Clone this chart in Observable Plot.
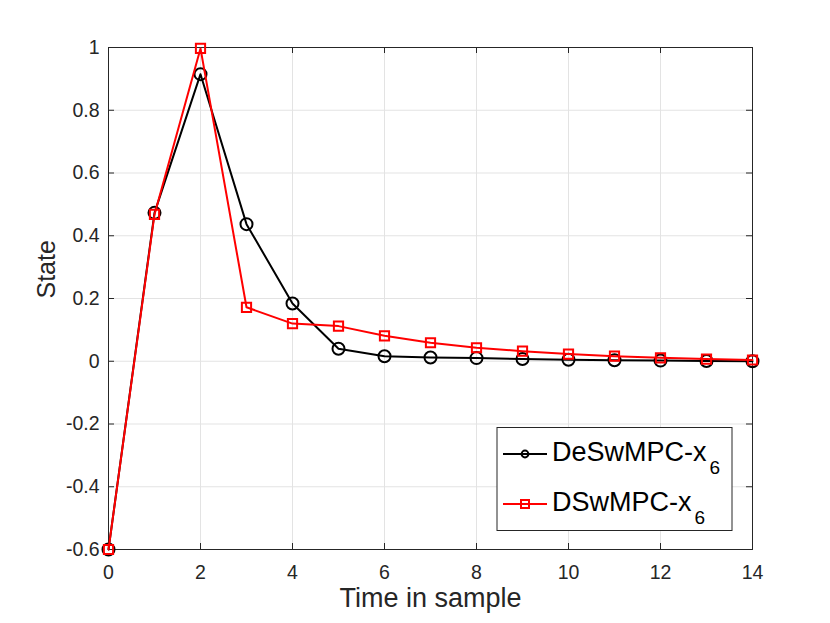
<!DOCTYPE html>
<html>
<head>
<meta charset="utf-8">
<script src="https://cdn.jsdelivr.net/npm/d3@7"></script>
<script src="https://cdn.jsdelivr.net/npm/@observablehq/plot@0.6"></script>
<style>
  body { margin: 0; background: #fff; }
  #chart { position: relative; width: 830px; height: 623px; }
  #chart g[aria-label="x-axis tick label"] text,
  #chart g[aria-label="y-axis tick label"] text { font-size: 19.5px; }
</style>
</head>
<body>
<div id="chart"></div>
<script>
const steps = [0, 1, 2, 3, 4, 5, 6, 7, 8, 9, 10, 11, 12, 13, 14];
const deswmpc = [-0.6, 0.473, 0.915, 0.437, 0.184, 0.040, 0.016, 0.012, 0.010, 0.007, 0.005, 0.003, 0.002, 0.001, 0.000];
const dswmpc  = [-0.6, 0.468, 0.997, 0.172, 0.120, 0.112, 0.081, 0.059, 0.043, 0.032, 0.023, 0.016, 0.011, 0.007, 0.004];
const xTicks = [0, 2, 4, 6, 8, 10, 12, 14];
const yTicks = [-0.6, -0.4, -0.2, 0, 0.2, 0.4, 0.6, 0.8, 1];
const yTickLabels = ["-0.6", "-0.4", "-0.2", "0", "0.2", "0.4", "0.6", "0.8", "1"];
const seriesNames = ["DeSwMPC-x", "DSwMPC-x"];
const seriesSub = "6";

const dataA = steps.map((t, i) => ({t, v: deswmpc[i]}));
const dataB = steps.map((t, i) => ({t, v: dswmpc[i]}));

const W = 830, H = 623;
const mL = 108, mR = 78, mT = 47, mB = 74;
const innerW = W - mL - mR, innerH = H - mT - mB;
const axisColor = "#262626";
const gridColor = "#e3e3e3";
const FONT = "'Liberation Sans', Arial, sans-serif";

const plot = Plot.plot({
  width: W, height: H,
  marginLeft: mL, marginRight: mR, marginTop: mT, marginBottom: mB,
  style: {fontFamily: FONT, fontSize: "19.5px", color: axisColor, background: "#fff"},
  x: {domain: [0, 14]},
  y: {domain: [-0.6, 1]},
  marks: [
    Plot.gridX(xTicks, {stroke: gridColor, strokeOpacity: 1}),
    Plot.gridY(yTicks, {stroke: gridColor, strokeOpacity: 1}),
    Plot.axisX(xTicks, {tickSize: 0, tickPadding: 16, label: null, fill: axisColor, fontSize: 19.5}),
    Plot.axisY(yTicks, {tickSize: 0, tickPadding: 9, label: null, fill: axisColor, fontSize: 19.5,
      tickFormat: d => yTickLabels[yTicks.indexOf(d)]}),
    Plot.tickX(xTicks, {x: d => d, insetTop: innerH - 6, stroke: axisColor}),
    Plot.tickX(xTicks, {x: d => d, insetBottom: innerH - 6, stroke: axisColor}),
    Plot.tickY(yTicks, {y: d => d, insetRight: innerW - 6, stroke: axisColor}),
    Plot.tickY(yTicks, {y: d => d, insetLeft: innerW - 6, stroke: axisColor}),
    Plot.frame({stroke: axisColor, strokeWidth: 1}),
    Plot.line(dataA, {x: "t", y: "v", stroke: "#000", strokeWidth: 2}),
    Plot.dot(dataA, {x: "t", y: "v", stroke: "#000", fill: "none", r: 6, strokeWidth: 2, symbol: "circle"}),
    Plot.line(dataB, {x: "t", y: "v", stroke: "#ff0000", strokeWidth: 2}),
    Plot.dot(dataB, {x: "t", y: "v", stroke: "#ff0000", fill: "none", r: 5.2, strokeWidth: 2, symbol: "square"}),
    Plot.text(["Time in sample"], {frameAnchor: "bottom", dy: 57, fontSize: 27, fill: axisColor, text: d => d}),
    Plot.text(["State"], {frameAnchor: "left", dx: -62, rotate: -90, fontSize: 25, fill: axisColor, text: d => d})
  ]
});
document.getElementById("chart").appendChild(plot);

// Legend box (inside plot area, lower right)
const svg = d3.select(plot);
const lg = svg.append("g").attr("font-family", FONT).attr("text-anchor", "start");
lg.append("rect").attr("x", 497).attr("y", 427.5).attr("width", 235).attr("height", 103)
  .attr("fill", "#fff").attr("stroke", axisColor).attr("stroke-width", 1);
const rows = [
  {name: seriesNames[0], color: "#000", sym: "circle", y: 454},
  {name: seriesNames[1], color: "#ff0000", sym: "square", y: 504}
];
rows.forEach(r => {
  lg.append("line").attr("x1", 503).attr("x2", 547).attr("y1", r.y).attr("y2", r.y)
    .attr("stroke", r.color).attr("stroke-width", 2);
  if (r.sym === "circle") {
    lg.append("circle").attr("cx", 525).attr("cy", r.y).attr("r", 3.4)
      .attr("fill", "none").attr("stroke", r.color).attr("stroke-width", 2);
  } else {
    lg.append("rect").attr("x", 521).attr("y", r.y - 4).attr("width", 8).attr("height", 8)
      .attr("fill", "none").attr("stroke", r.color).attr("stroke-width", 2);
  }
  const t = lg.append("text").attr("x", 552).attr("y", r.y + 7).attr("font-size", 27).attr("fill", "#000");
  t.append("tspan").text(r.name);
  t.append("tspan").attr("dx", 3).attr("dy", 13).attr("font-size", 19).text(seriesSub);
});
</script>
</body>
</html>
